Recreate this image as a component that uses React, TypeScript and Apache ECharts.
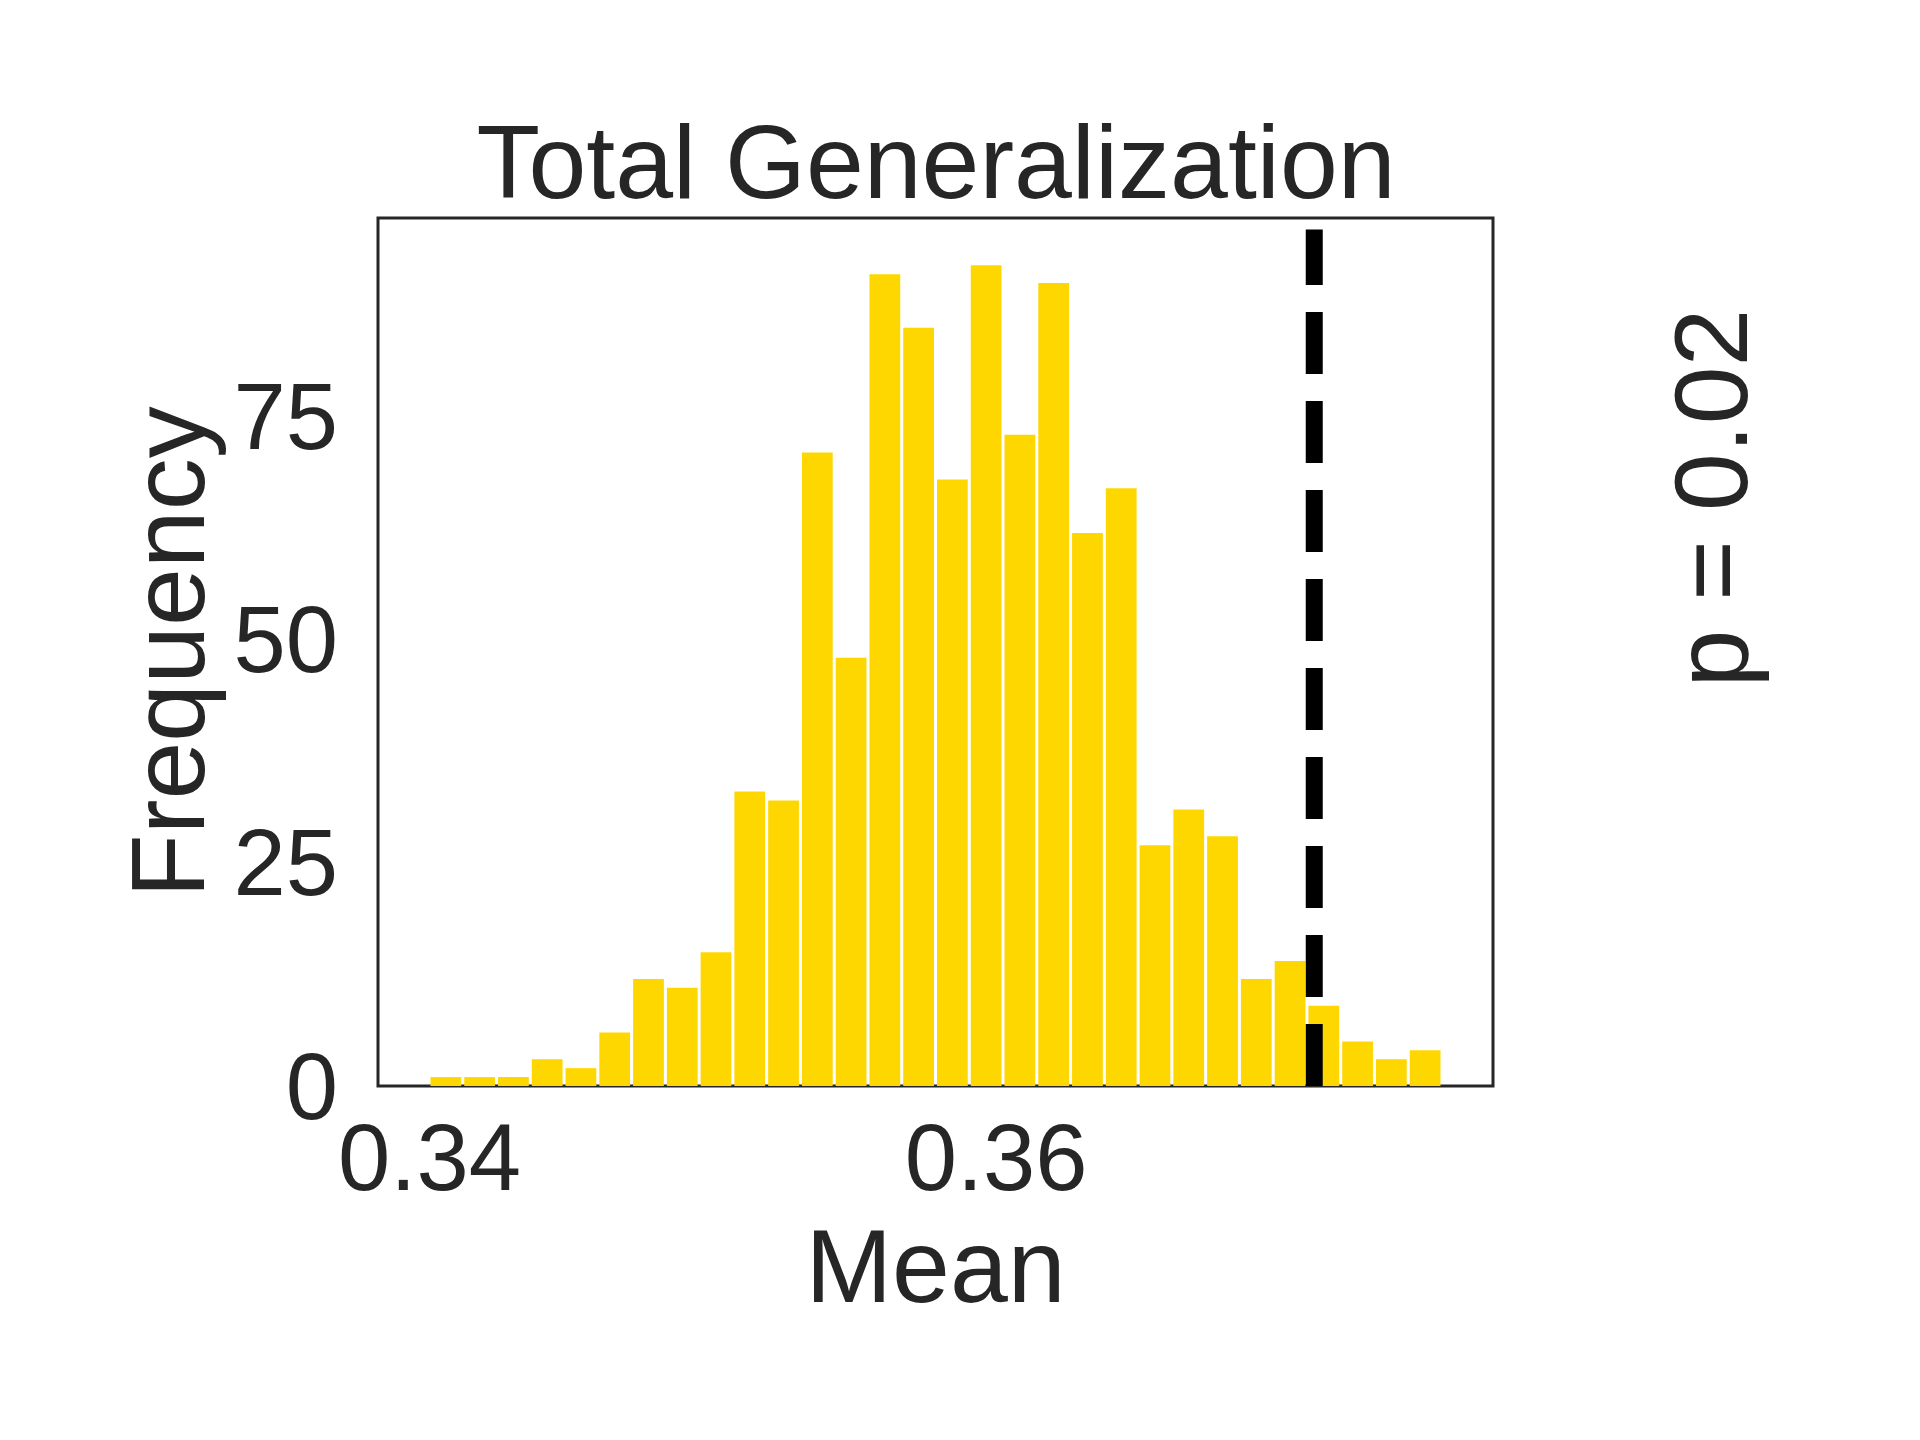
import * as echarts from 'echarts'
import { useEffect, useRef } from 'react'

// histogram bins: left edge of first bin, bin width, counts
const binStart = 0.33998
const binWidth = 0.001192
const counts = [1, 1, 1, 3, 2, 6, 12, 11, 15, 33, 32, 71, 48, 91, 85, 68, 92, 73, 90, 62, 67, 27, 31, 28, 12, 14, 9, 5, 3, 4]
const xTicks = [0.34, 0.36]
const yTicks = [0, 25, 50, 75]
const observed = 0.37123
const pText = 'p = 0.02'

const FONT = '"Liberation Sans", Arial, sans-serif'
const INK = '#262626'

const App = () => {
  const chartRef = useRef<HTMLDivElement | null>(null)
  useEffect(() => {
    if (!chartRef.current) return
    const myChart = echarts.init(chartRef.current, null, { renderer: 'svg' })
    const data = counts.map((c, i) => [binStart + i * binWidth, binStart + (i + 1) * binWidth, c])
    myChart.setOption({
      animation: false,
      grid: { left: 378, top: 218, width: 1115, height: 868, show: true, borderColor: INK, borderWidth: 3, backgroundColor: 'transparent' },
      xAxis: {
        type: 'value', min: 0.33818, max: 0.37754,
        name: 'Mean', nameLocation: 'middle', nameGap: 128,
        nameTextStyle: { fontFamily: FONT, fontSize: 104, color: INK },
        axisLine: { show: false }, axisTick: { show: false }, splitLine: { show: false },
        axisLabel: { customValues: xTicks, formatter: (v: number) => v.toFixed(2), margin: 24, fontFamily: FONT, fontSize: 94, color: INK },
      },
      yAxis: {
        type: 'value', min: 0, max: 97.3,
        name: 'Frequency', nameLocation: 'middle', nameGap: 158,
        nameTextStyle: { fontFamily: FONT, fontSize: 104, color: INK },
        axisLine: { show: false }, axisTick: { show: false }, splitLine: { show: false },
        axisLabel: { customValues: yTicks, margin: 40, fontFamily: FONT, fontSize: 94, color: INK },
      },
      graphic: [
        {
          type: 'text', x: 936, y: 162,
          style: { text: 'Total Generalization', fontFamily: FONT, fontSize: 104, fill: INK, textAlign: 'center', textVerticalAlign: 'middle' },
        },
        {
          type: 'text', x: 1711, y: 498, rotation: Math.PI / 2,
          style: { text: pText, fontFamily: FONT, fontSize: 104, fill: INK, textAlign: 'center', textVerticalAlign: 'middle' },
        },
      ],
      series: [
        {
          type: 'custom',
          data,
          renderItem: (params: any, api: any) => {
            const p0 = api.coord([api.value(0), api.value(2)])
            const p1 = api.coord([api.value(1), 0])
            return {
              type: 'rect',
              shape: { x: p0[0] + 1.5, y: p0[1], width: p1[0] - p0[0] - 3, height: p1[1] - p0[1] },
              style: { fill: '#FFD700' },
            }
          },
        },
        {
          type: 'line',
          data: [[observed, 0], [observed, 96]],
          symbol: 'none',
          silent: true,
          lineStyle: { color: '#000', width: 17, type: [62, 27] },
        },
      ],
    })
    return () => { myChart.dispose() }
  }, [])
  return (
    <div ref={chartRef} style={{ position: 'absolute', left: 0, top: 0, width: '1920px', height: '1440px' }}></div>
  )
}
export default App
